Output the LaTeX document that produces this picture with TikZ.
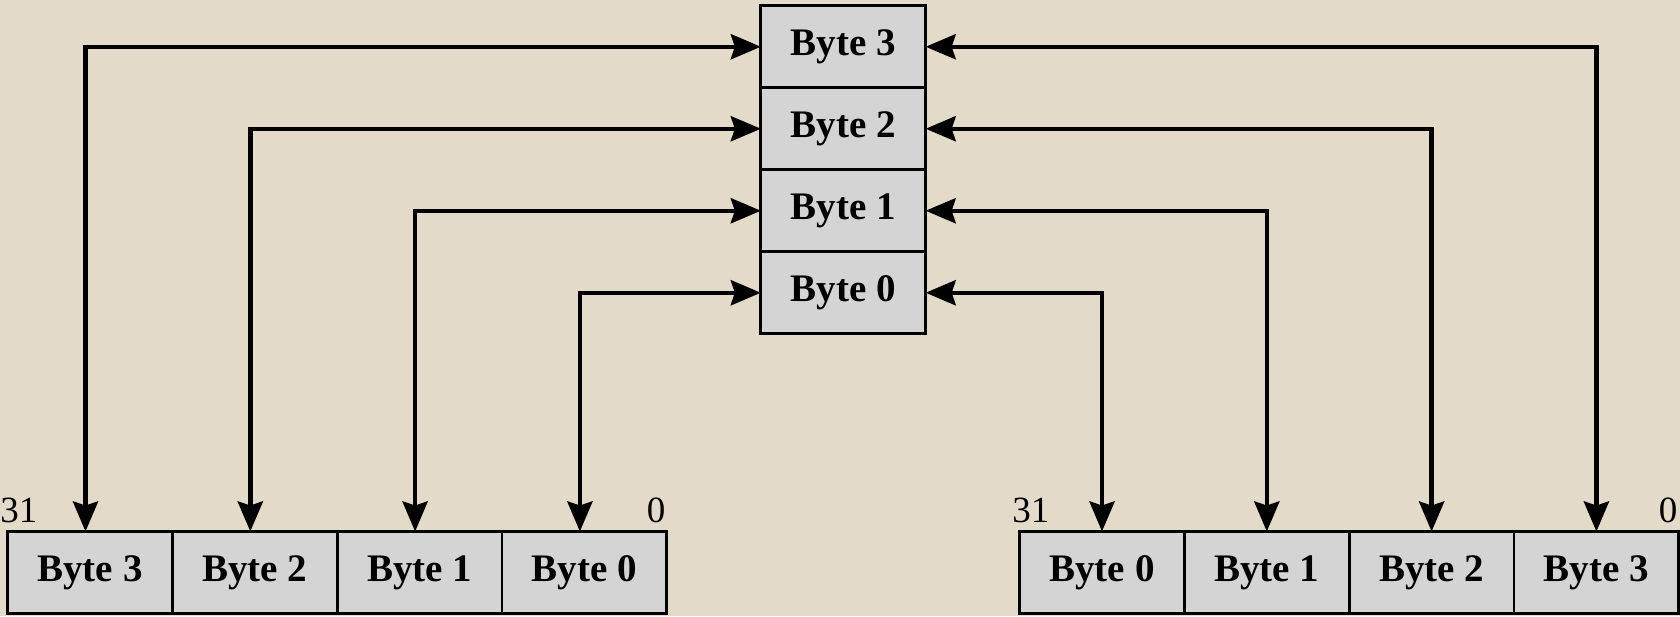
\documentclass[tikz,border=0pt]{standalone}
\usepackage{fontspec}
\setmainfont{Liberation Serif}
\usepackage{xcolor}
\usepackage{tikz}
\usetikzlibrary{positioning,arrows.meta}

\definecolor{bgbeige}{RGB}{228,218,201}
\definecolor{cellgray}{RGB}{212,212,212}

\begin{document}
\begin{tikzpicture}[x=0.5pt,y=-0.5pt,
  bytecell/.style={draw=black, line width=1.4pt, fill=cellgray, outer sep=0pt, inner sep=0pt,
    minimum width=82.4pt, minimum height=41pt, font=\fontsize{19.5pt}{20pt}\selectfont\bfseries},
  bitlabel/.style={inner sep=0pt, font=\fontsize{18.5pt}{19pt}\selectfont},
  swap/.style={line width=2.25pt, {Stealth[length=15pt,width=12.5pt,inset=2pt]}-{Stealth[length=15pt,width=12.5pt,inset=2pt]}},
  node distance=0pt]
\fill[bgbeige] (0,0) rectangle (1680,616);
\useasboundingbox (0,0) rectangle (1680,616);

\node[bytecell] (mem3) at (843.25,46.75) {Byte 3};
\node[bytecell, below=of mem3] (mem2) {Byte 2};
\node[bytecell, below=of mem2] (mem1) {Byte 1};
\node[bytecell, below=of mem1] (mem0) {Byte 0};

\node[bytecell] (lreg3) at (90,572.5) {Byte 3};
\node[bytecell, right=of lreg3] (lreg2) {Byte 2};
\node[bytecell, right=of lreg2] (lreg1) {Byte 1};
\node[bytecell, right=of lreg1] (lreg0) {Byte 0};

\node[bytecell] (rreg0) at (1102,572.5) {Byte 0};
\node[bytecell, right=of rreg0] (rreg1) {Byte 1};
\node[bytecell, right=of rreg1] (rreg2) {Byte 2};
\node[bytecell, right=of rreg2] (rreg3) {Byte 3};

\node[bitlabel, anchor=base west] (lmsb) at ([xshift=-3.8pt,yshift=4.75pt]lreg3.north west) {31};
\node[bitlabel, anchor=base east] (llsb) at ([xshift=-0.5pt,yshift=4.75pt]lreg0.north east) {0};
\node[bitlabel, anchor=base west] (rmsb) at ([xshift=-3.8pt,yshift=4.75pt]rreg0.north west) {31};
\node[bitlabel, anchor=base east] (rlsb) at ([xshift=-0.5pt,yshift=4.75pt]rreg3.north east) {0};

\draw[swap] (mem3.west) -| ([xshift=-2.25pt]lreg3.north);
\draw[swap] (mem2.west) -| ([xshift=-2.25pt]lreg2.north);
\draw[swap] (mem1.west) -| ([xshift=-2.25pt]lreg1.north);
\draw[swap] (mem0.west) -| ([xshift=-2.25pt]lreg0.north);

\draw[swap] (mem3.east) -| (rreg3.north);
\draw[swap] (mem2.east) -| (rreg2.north);
\draw[swap] (mem1.east) -| (rreg1.north);
\draw[swap] (mem0.east) -| (rreg0.north);
\end{tikzpicture}
\end{document}
